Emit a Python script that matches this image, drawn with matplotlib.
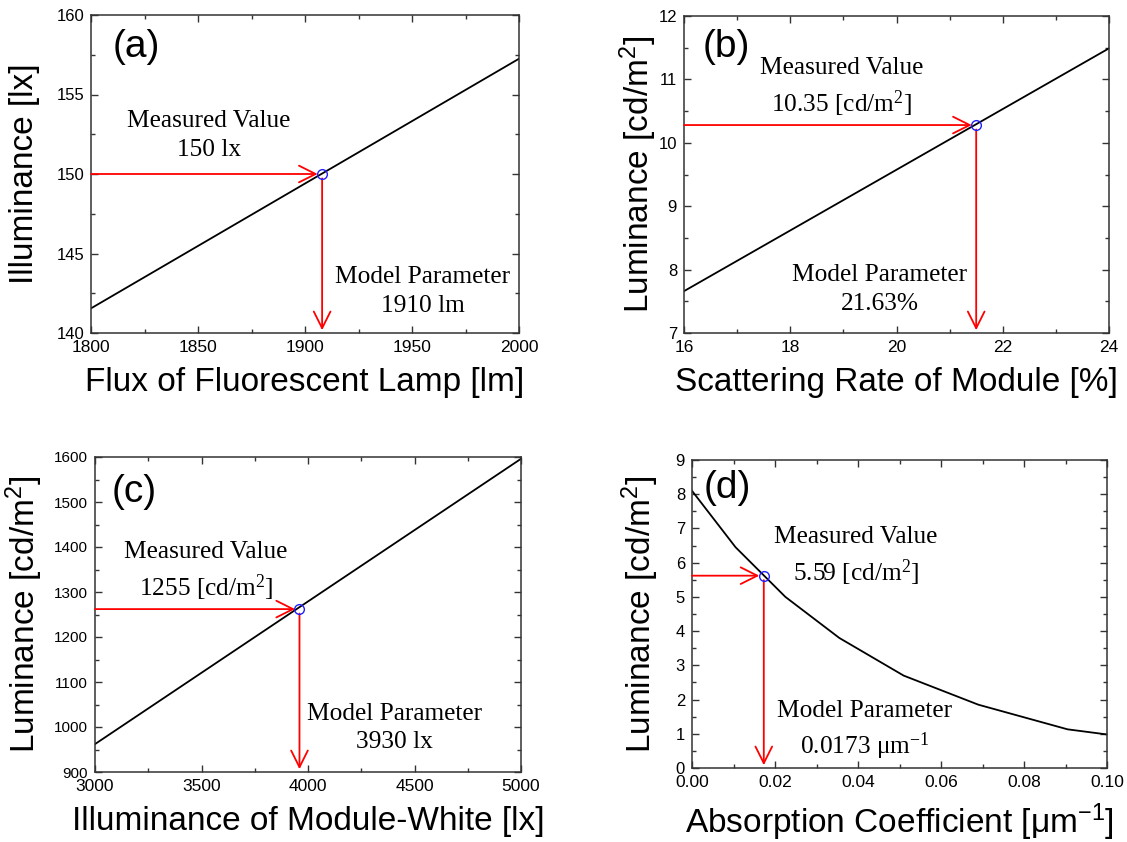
import matplotlib
matplotlib.use('Agg')
import matplotlib.pyplot as plt
from matplotlib.ticker import MultipleLocator, FormatStrFormatter

# ---------------- data ----------------
a_x = [1800, 2000]
a_y = [141.55, 157.25]
a_pt = (1908, 150)

b_x = [16, 24]
b_y = [7.66, 11.49]
b_pt = (21.5, 10.28)

c_x = [3000, 5000]
c_y = [962, 1596]
c_pt = (3960, 1262)

d_x = [0.0, 0.0105, 0.0225, 0.0355, 0.051, 0.069, 0.0905, 0.1]
d_y = [8.1, 6.45, 5.0, 3.8, 2.7, 1.85, 1.13, 0.98]
d_pt = (0.0173, 5.62)

a_texts = ["Measured Value\n150 lx", "Model Parameter\n1910 lm"]
b_texts = ["Measured Value\n10.35 [cd/m$\\mathregular{^2}$]", "Model Parameter\n21.63%"]
c_texts = ["Measured Value\n1255 [cd/m$\\mathregular{^2}$]", "Model Parameter\n3930 lx"]
d_texts = ["Measured Value\n5.59 [cd/m$\\mathregular{^2}$]", "Model Parameter\n0.0173 μm$\\mathregular{^{-1}}$"]

# ---------------- figure ----------------
SANS = 'Liberation Sans'
SERIF = 'Liberation Serif'
plt.rcParams['font.family'] = [SANS, 'DejaVu Sans']

W, H = 1127, 842
fig = plt.figure(figsize=(W / 100, H / 100), dpi=100)


def make_ax(l, r, t, b):
    return fig.add_axes([l / W, 1 - b / H, (r - l) / W, (b - t) / H])


def style(ax, xlim, ylim, xmaj, ymaj, xfmt, yfmt, xlabel, ylabel, ylab_x, ysize=12):
    ax.set_xlim(xlim)
    ax.set_ylim(ylim)
    ax.xaxis.set_major_locator(MultipleLocator(xmaj))
    ax.xaxis.set_minor_locator(MultipleLocator(xmaj / 2))
    ax.yaxis.set_major_locator(MultipleLocator(ymaj))
    ax.yaxis.set_minor_locator(MultipleLocator(ymaj / 2))
    ax.xaxis.set_major_formatter(FormatStrFormatter(xfmt))
    ax.yaxis.set_major_formatter(FormatStrFormatter(yfmt))
    ax.tick_params(which='both', direction='in', top=True, right=True,
                   color='#333333', width=1.0)
    ax.tick_params(which='major', length=5, pad=5)
    ax.tick_params(which='minor', length=3)
    ax.tick_params(axis='x', labelsize=12.5)
    ax.tick_params(axis='y', labelsize=ysize)
    for sp in ax.spines.values():
        sp.set_linewidth(1.1)
        sp.set_color('#333333')
    ax.set_xlabel(xlabel, fontfamily=SANS, fontsize=24, labelpad=8.5)
    ax.set_ylabel(ylabel, fontfamily=SANS, fontsize=24)
    ax.yaxis.set_label_coords(ylab_x, 0.5)


def mark(ax, pt, xmin, ymin):
    x0, y0 = pt
    props = dict(arrowstyle='->,head_length=0.6,head_width=0.3',
                 mutation_scale=20, color='#ff0000', lw=1.3)
    ax.annotate('', xy=(x0, y0), xytext=(xmin, y0),
                arrowprops=dict(props, shrinkA=0, shrinkB=3.2))
    ax.annotate('', xy=(x0, ymin), xytext=(x0, y0),
                arrowprops=dict(props, shrinkA=3.2, shrinkB=2))
    ax.plot([x0], [y0], 'o', mfc='none', mec='#2020ff', ms=7, mew=1.0, zorder=5)


def texts(ax, labels, pos1, pos2, tag, tagpos):
    ax.text(pos1[0], pos1[1], labels[0], ha='center', va='center',
            fontfamily=SERIF, fontsize=18.3, linespacing=1.4)
    ax.text(pos2[0], pos2[1], labels[1], ha='center', va='center',
            fontfamily=SERIF, fontsize=18.3, linespacing=1.4)
    ax.text(tagpos[0], tagpos[1], tag, ha='center', va='center',
            fontfamily=SANS, fontsize=28)


# (a)
ax = make_ax(91, 519, 15, 333)
ax.plot(a_x, a_y, color='black', lw=1.3)
style(ax, (1800, 2000), (140, 160), 50, 5, '%d', '%d',
      'Flux of Fluorescent Lamp [lm]', 'Illuminance [lx]', -0.119)
mark(ax, a_pt, 1800, 140)
texts(ax, a_texts, (1855, 152.4), (1955, 142.6), '(a)', (1821, 158.0))

# (b)
ax = make_ax(684, 1109, 16, 333)
ax.plot(b_x, b_y, color='black', lw=1.3)
style(ax, (16, 24), (7, 12), 2, 1, '%d', '%d',
      'Scattering Rate of Module [%]', 'Luminance [cd/m$\\mathregular{^2}$]', -0.060)
mark(ax, b_pt, 16, 7)
texts(ax, b_texts, (18.97, 10.86), (19.69, 7.68), '(b)', (16.8, 11.51))

# (c)
ax = make_ax(95, 521, 457, 772)
ax.plot(c_x, c_y, color='black', lw=1.3)
style(ax, (3000, 5000), (900, 1600), 500, 100, '%d', '%d',
      'Illuminance of Module-White [lx]', 'Luminance [cd/m$\\mathregular{^2}$]', -0.118, ysize=11)
mark(ax, c_pt, 3000, 900)
texts(ax, c_texts, (3521, 1345), (4405, 998), '(c)', (3185, 1523))

# (d)
ax = make_ax(692, 1107, 460, 768)
ax.plot(d_x, d_y, color='black', lw=1.3)
style(ax, (0, 0.1), (0, 9), 0.02, 1, '%.2f', '%d',
      'Absorption Coefficient [μm$\\mathregular{^{-1}}$]', 'Luminance [cd/m$\\mathregular{^2}$]', -0.074, ysize=12)
mark(ax, d_pt, 0, 0)
texts(ax, d_texts, (0.0395, 6.17), (0.0417, 1.08), '(d)', (0.0085, 8.17))

fig.savefig('out.png', dpi=100)
